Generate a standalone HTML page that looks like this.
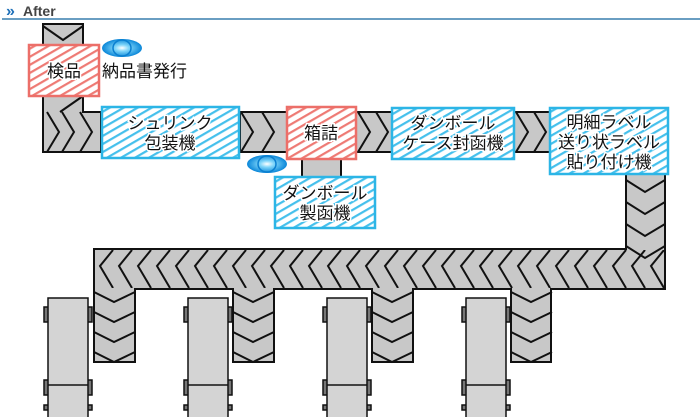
<!DOCTYPE html>
<html><head><meta charset="utf-8"><style>
html,body{margin:0;padding:0;background:#fff;width:700px;height:417px;overflow:hidden}
svg{display:block}
text{font-family:"Liberation Sans","Noto Sans CJK JP",sans-serif}
</style></head><body>
<svg width="700" height="417" viewBox="0 0 700 417" xmlns="http://www.w3.org/2000/svg">
<defs>
<pattern id="hb" width="7" height="7" patternUnits="userSpaceOnUse" patternTransform="rotate(-30)">
<rect width="7" height="7" fill="#fff"/><rect width="7" height="2.2" fill="#45c0ec"/></pattern>
<pattern id="hr" width="7" height="7" patternUnits="userSpaceOnUse" patternTransform="rotate(-30)">
<rect width="7" height="7" fill="#fff"/><rect width="7" height="2.2" fill="#ee7a74"/></pattern>
<radialGradient id="eg" cx="50%" cy="50%" r="50%"><stop offset="0" stop-color="#ffffff"/><stop offset="0.35" stop-color="#7fd6fa"/><stop offset="1" stop-color="#0a86d8"/></radialGradient>
</defs>
<!-- header -->
<text x="6" y="16" font-size="16" font-weight="bold" fill="#1d6fb8">»</text>
<text x="23" y="16" font-size="14" font-weight="bold" fill="#444">After</text>
<rect x="2" y="18" width="698" height="2" fill="#6a9ec2"/>

<g stroke="#111" stroke-width="2" fill="#c8c8c8">
<path d="M43 24 V152 H101 V112 H83 V24 Z"/>
<rect x="240" y="112" width="47" height="40"/>
<rect x="356" y="112" width="36" height="40"/>
<rect x="514" y="112" width="36" height="40"/>
<rect x="302" y="158" width="39" height="19"/>
<path d="M626 170 H665 V289 H551 V362 H511 V289 H413 V362 H372 V289 H274 V362 H233 V289 H135 V362 H94 V249 H626 Z"/>
</g>
<g stroke="#111" stroke-width="2" fill="none">
<polyline points="43,26 63,40 83,26"/>
<polyline points="60,112 83,96"/>
<polyline points="47,152 59,132 47,112"/>
<polyline points="62,152 74,132 62,112"/>
<polyline points="80,152 92,132 80,112"/>
<polyline points="241,152 253,132 241,112"/>
<polyline points="262,152 274,132 262,112"/>
<polyline points="358,152 370,132 358,112"/>
<polyline points="376,152 388,132 376,112"/>
<polyline points="516,152 528,132 516,112"/>
<polyline points="534,152 546,132 534,112"/>
<polyline points="626,180 645,192 665,180"/>
<polyline points="626,202 645,214 665,202"/>
<polyline points="626,224 645,236 665,224"/>
<polyline points="626,246 645,258 665,246"/>
<g id="br"><polyline points="94,292 114,302 135,292"/><polyline points="94,312 114,322 135,312"/><polyline points="94,332 114,342 135,332"/><polyline points="94,352 114,362 135,352"/></g>
<use href="#br" x="139"/><use href="#br" x="278"/><use href="#br" x="417"/>
</g>
<g stroke="#111" stroke-width="2" fill="none" clip-path="url(#lc)">
<clipPath id="lc"><rect x="95" y="250" width="569" height="38"/></clipPath>
<g id="lv">
<polyline points="113,250 100,266 113,288"/><polyline points="132,250 119,266 132,288"/><polyline points="151,250 138,266 151,288"/><polyline points="170,250 157,266 170,288"/><polyline points="189,250 176,266 189,288"/><polyline points="208,250 195,266 208,288"/><polyline points="227,250 214,266 227,288"/><polyline points="246,250 233,266 246,288"/><polyline points="265,250 252,266 265,288"/><polyline points="284,250 271,266 284,288"/>
</g>
<use href="#lv" x="190"/><use href="#lv" x="380"/>
</g>

<g id="tk" stroke="#111" stroke-width="1.5">
<rect x="44" y="307" width="5" height="15" fill="#777"/><rect x="87" y="307" width="5" height="15" fill="#777"/>
<rect x="44" y="380" width="5" height="15" fill="#777"/><rect x="87" y="380" width="5" height="15" fill="#777"/>
<rect x="44" y="405" width="5" height="5" fill="#777"/><rect x="87" y="405" width="5" height="5" fill="#777"/>
<rect x="48" y="298" width="40" height="125" fill="#d4d4d4"/>
<line x1="48" y1="385" x2="88" y2="385"/>
</g>
<use href="#tk" x="140"/><use href="#tk" x="279"/><use href="#tk" x="418"/>

<g stroke-width="2.5">
<rect x="29" y="45" width="70" height="51" fill="url(#hr)" stroke="#ec6f69"/>
<rect x="287" y="107" width="69" height="52" fill="url(#hr)" stroke="#ec6f69"/>
<rect x="102" y="107" width="137" height="51" fill="url(#hb)" stroke="#2cb5e6"/>
<rect x="392" y="108" width="122" height="51" fill="url(#hb)" stroke="#2cb5e6"/>
<rect x="550" y="108" width="118" height="66" fill="url(#hb)" stroke="#2cb5e6"/>
<rect x="275" y="177" width="100" height="51" fill="url(#hb)" stroke="#2cb5e6"/>
</g>
<g id="el">
<ellipse cx="122" cy="48" rx="20" ry="9" fill="url(#eg)"/>
<ellipse cx="122" cy="48" rx="9" ry="8" fill="none" stroke="#0a7fd0" stroke-width="1.5"/>
</g>
<use href="#el" x="145" y="116"/>

<g font-size="17" fill="#111" text-anchor="middle" stroke="#fff" stroke-width="3" paint-order="stroke">
<text x="64" y="77">検品</text>
<text x="321" y="139">箱詰</text>
<text x="170" y="129">シュリンク</text><text x="170" y="149">包装機</text>
<text x="453" y="129">ダンボール</text><text x="453" y="149">ケース封函機</text>
<text x="609" y="128">明細ラベル</text><text x="609" y="148">送り状ラベル</text><text x="609" y="168">貼り付け機</text>
<text x="325" y="199">ダンボール</text><text x="325" y="219">製函機</text>
</g>
<text x="102" y="77" font-size="17" fill="#111">納品書発行</text>
</svg>
</body></html>
